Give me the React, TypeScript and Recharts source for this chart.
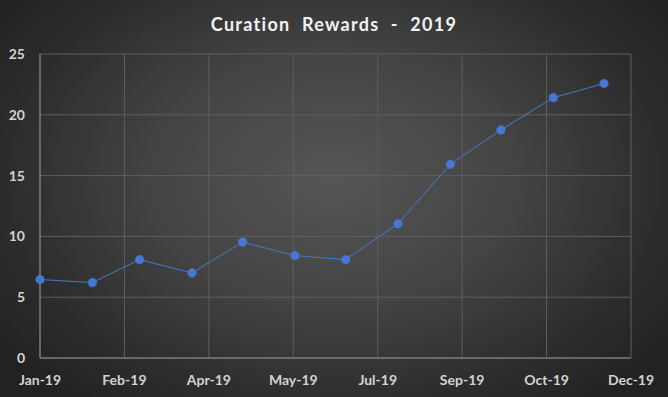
import React from 'react';
import { LineChart, Line, XAxis, YAxis, CartesianGrid } from 'recharts';

const monthDates = ['2019-01-01', '2019-02-01', '2019-03-01', '2019-04-01', '2019-05-01', '2019-06-01', '2019-07-01', '2019-08-01', '2019-09-01', '2019-10-01', '2019-11-01', '2019-12-01'];
const rewards = [6.45, 6.2, 8.09, 7.0, 9.53, 8.42, 8.09, 11.04, 15.93, 18.76, 21.41, 22.57];
const xTickDates = ['2019-01-01', '2019-02-20', '2019-04-11', '2019-05-31', '2019-07-20', '2019-09-08', '2019-10-28', '2019-12-17'];
const xTickLabels = ['Jan-19', 'Feb-19', 'Apr-19', 'May-19', 'Jul-19', 'Sep-19', 'Oct-19', 'Dec-19'];
const yTicks = [0, 5, 10, 15, 20, 25];
const title = 'Curation  Rewards  -  2019';

const DAY = 86400000;
const base = Date.UTC(2019, 0, 1);
const toDay = (s: string) => {
  const [y, m, d] = s.split('-').map(Number);
  return Math.round((Date.UTC(y, m - 1, d) - base) / DAY);
};

const data = monthDates.map((d, i) => ({ day: toDay(d), value: rewards[i] }));
const xTicks = xTickDates.map(toDay);
const labelFor = (v: number) => {
  const i = xTicks.indexOf(v);
  return i >= 0 ? xTickLabels[i] : '';
};

const font = 'Lato, "Open Sans", sans-serif';

export default function App() {
  return (
    <div
      style={{
        position: 'absolute',
        left: 0,
        top: 0,
        width: 668,
        height: 397,
        background: 'radial-gradient(ellipse 62% 72% at 50% 45%, #565656 0%, #434343 45%, #2c2c2c 80%, #222222 100%)',
        fontFamily: font,
      }}
    >
      <div
        style={{
          position: 'absolute',
          left: 0,
          top: 13,
          width: 668,
          textAlign: 'center',
          color: '#f2f2f2',
          fontSize: 18,
          fontWeight: 700,
          letterSpacing: 1.3,
          whiteSpace: 'pre',
        }}
      >
        {title}
      </div>
      <LineChart
        width={668}
        height={397}
        data={data}
        margin={{ top: 54, right: 37, bottom: 0, left: 0 }}
        style={{ position: 'absolute', left: 0, top: 0 }}
      >
        <CartesianGrid stroke="#5e5e5e" strokeWidth={1} />
        <XAxis
          dataKey="day"
          type="number"
          domain={[0, 350]}
          ticks={xTicks}
          tickFormatter={labelFor}
          height={39}
          axisLine={{ stroke: '#8a8a8a', strokeWidth: 1 }}
          tickLine={false}
          tickSize={0}
          tickMargin={17}
          tick={{ fill: '#d3d3d3', fontSize: 14, fontWeight: 700, fontFamily: font }}
          interval={0}
        />
        <YAxis
          type="number"
          domain={[0, 25]}
          ticks={yTicks}
          width={40}
          axisLine={{ stroke: '#8a8a8a', strokeWidth: 1 }}
          tickLine={false}
          tickSize={0}
          tickMargin={15}
          tick={{ fill: '#d3d3d3', fontSize: 14, fontWeight: 700, fontFamily: font }}
          interval={0}
        />
        <Line
          type="linear"
          dataKey="value"
          stroke="#4a78c8"
          strokeWidth={1}
          dot={{ r: 4.3, fill: '#4677d4', stroke: '#4677d4', strokeWidth: 0.5 }}
          activeDot={false}
          isAnimationActive={false}
        />
      </LineChart>
    </div>
  );
}
